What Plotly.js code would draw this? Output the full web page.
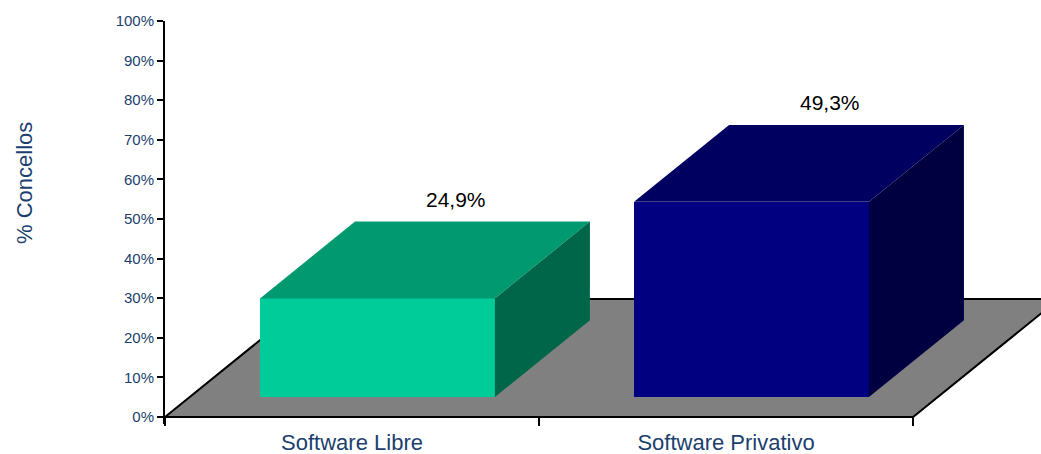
<!DOCTYPE html>
<html>
<head>
<meta charset="utf-8">
<script src="https://cdn.plot.ly/plotly-3.0.1.min.js"></script>
<style>
  html, body { margin: 0; padding: 0; background: #ffffff; }
  #chart { width: 1041px; height: 454px; }
</style>
</head>
<body>
<div id="chart"></div>
<script>
// ---- data ----
const categories = ['Software Libre', 'Software Privativo'];
const values = [24.9, 49.3];
const valueLabels = ['24,9%', '49,3%'];
const yTickVals = [0, 10, 20, 30, 40, 50, 60, 70, 80, 90, 100];
const yTickText = ['0%', '10%', '20%', '30%', '40%', '50%', '60%', '70%', '80%', '90%', '100%'];
const yTitle = '% Concellos';

// ---- style ----
const frontColors = ['#00CC99', '#000080'];
const topColors = ['#009970', '#000060'];
const sideColors = ['#006649', '#000040'];
const axisTextColor = '#1B3F6E';
const FONT = '"Liberation Sans", Arial, sans-serif';

// pseudo-3D geometry (axis units)
const BASE = 5.05;      // bar front bottom sits this far "into" the floor
const BAR_OFF = -0.246; // bar front-left edge relative to category index
const BAR_W = 0.628;    // bar width
const DX = 0.254;       // bar depth, x
const DY = 19.4;        // bar depth, y
const FLOOR_DX = 0.39;  // floor depth, x
const FLOOR_DY = 29.8;  // floor depth, y

const shapes = [];
// floor
shapes.push({
  type: 'path', xref: 'x', yref: 'y', layer: 'below',
  path: `M -0.5,0 L 1.5,0 L ${1.5 + FLOOR_DX},${FLOOR_DY} L ${-0.5 + FLOOR_DX},${FLOOR_DY} Z`,
  fillcolor: '#808080', line: { color: '#000000', width: 2 }
});

const annotations = [];
values.forEach((v, i) => {
  const x0 = i + BAR_OFF;
  const x1 = x0 + BAR_W;
  const yb = BASE;
  const yt = BASE + v;
  // top face
  shapes.push({
    type: 'path', xref: 'x', yref: 'y', layer: 'above',
    path: `M ${x0},${yt} L ${x1},${yt} L ${x1 + DX},${yt + DY} L ${x0 + DX},${yt + DY} Z`,
    fillcolor: topColors[i], line: { width: 0 }
  });
  // side face
  shapes.push({
    type: 'path', xref: 'x', yref: 'y', layer: 'above',
    path: `M ${x1},${yb} L ${x1},${yt} L ${x1 + DX},${yt + DY} L ${x1 + DX},${yb + DY} Z`,
    fillcolor: sideColors[i], line: { width: 0 }
  });
  annotations.push({
    xref: 'x', yref: 'y',
    x: i + BAR_OFF + BAR_W / 2 + 0.209,
    y: yt + DY,
    yshift: 22,
    text: valueLabels[i],
    showarrow: false,
    xanchor: 'center', yanchor: 'middle',
    font: { family: FONT, size: 21, color: '#000000' }
  });
});

// y-axis title (placed as rotated text to match the original's position)
annotations.push({
  xref: 'paper', yref: 'paper',
  x: 0, xshift: -141,
  y: (424 - 183) / 403,
  text: yTitle,
  textangle: -90,
  showarrow: false,
  xanchor: 'center', yanchor: 'middle',
  font: { family: FONT, size: 22, color: axisTextColor }
});

const trace = {
  type: 'bar',
  x: categories,
  y: values,
  base: BASE,
  width: BAR_W,
  offset: BAR_OFF,
  marker: { color: frontColors, line: { width: 0 } },
  hoverinfo: 'skip'
};

const layout = {
  width: 1041,
  height: 454,
  margin: { l: 165, r: 0, t: 21, b: 30, pad: 0 },
  paper_bgcolor: '#ffffff',
  plot_bgcolor: 'rgba(0,0,0,0)',
  showlegend: false,
  bargap: 0,
  xaxis: {
    type: 'category',
    range: [-0.5, 1.842],
    tickson: 'boundaries',
    ticks: 'outside', ticklen: 8, tickwidth: 2, tickcolor: '#000000',
    ticklabelstandoff: 10,
    showline: false, showgrid: false, zeroline: false,
    anchor: 'free', position: 7 / 403,
    tickfont: { family: FONT, size: 22, color: axisTextColor },
    fixedrange: true
  },
  yaxis: {
    range: [-1.768, 100],
    tickvals: yTickVals,
    ticktext: yTickText,
    ticks: 'outside', ticklen: 6, tickwidth: 2, tickcolor: '#000000',
    showline: true, linewidth: 2, linecolor: '#000000',
    showgrid: false, zeroline: false,
    tickfont: { family: FONT, size: 15, color: axisTextColor },
    fixedrange: true
  },
  shapes: shapes,
  annotations: annotations
};

Plotly.newPlot('chart', [trace], layout, { displayModeBar: false, staticPlot: true });
</script>
</body>
</html>
